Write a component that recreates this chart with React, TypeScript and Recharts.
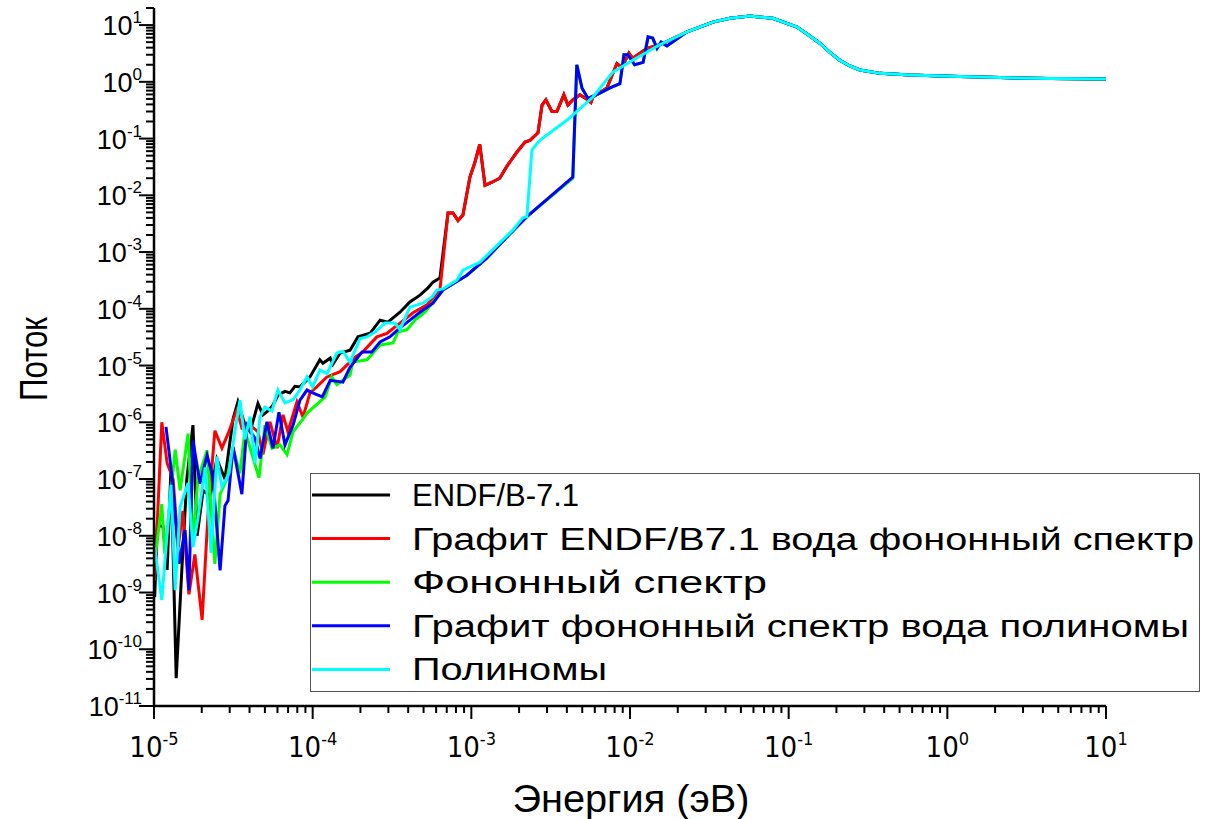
import { LineChart, Line, XAxis, YAxis, Legend, Label } from "recharts"

const FONT = "'Liberation Sans', Arial, sans-serif"
const NARROW = "'Liberation Sans Narrow', 'Arial Narrow', 'DejaVu Sans Condensed', sans-serif"

const seriesNames = [
  "ENDF/B-7.1",
  "Графит ENDF/B7.1 вода фононный спектр",
  "Фононный спектр",
  "Графит фононный спектр вода полиномы",
  "Полиномы",
]
const seriesColors = ["#000000", "#ff0000", "#00ff00", "#0000ff", "#00ffff"]
// the Cyrillic legend entries are drawn much wider in the original
const legendTextWidths = [0, 782, 355, 777, 195]

const xMajorTicks = [1e-5, 1e-4, 1e-3, 1e-2, 1e-1, 1, 10]
const yMajorTicks = [1e-11, 1e-10, 1e-9, 1e-8, 1e-7, 1e-6, 1e-5, 1e-4, 1e-3, 1e-2, 1e-1, 1, 10]
const minorSteps = [2, 3, 4, 5, 6, 7, 8, 9]

// ENDF/B-7.1 below the graphite jump
const endfEnergy = [
  1.01e-5, 1.05e-5, 1.14e-5, 1.21e-5, 1.28e-5, 1.38e-5, 1.5e-5, 1.61e-5, 1.76e-5, 1.87e-5,
  2.04e-5, 2.25e-5, 2.49e-5, 2.8e-5, 3.15e-5, 3.38e-5, 3.74e-5, 4.03e-5, 4.52e-5, 4.86e-5,
  5.22e-5, 5.62e-5, 6.04e-5, 6.69e-5, 7.19e-5, 7.73e-5, 8.32e-5, 9.62e-5, 1.11e-4, 1.16e-4,
  1.29e-4, 1.34e-4, 1.49e-4, 1.72e-4, 1.93e-4, 2.3e-4, 2.66e-4, 2.98e-4, 3.55e-4, 4.1e-4,
  4.75e-4, 5.33e-4, 5.73e-4, 6.34e-4,
]
const endfFlux = [
  8.3e-10, 1.55e-8, 1.45e-8, 2.5e-9, 1.62e-7, 3.1e-11, 2.75e-9, 1.0e-7, 8.9e-7, 1.0e-8,
  6.3e-8, 5.0e-8, 2.24e-7, 1.0e-7, 1.15e-6, 2.3e-6, 8.9e-7, 6.8e-7, 2.14e-6, 1.35e-6,
  1.58e-6, 2.0e-6, 3.0e-6, 3.5e-6, 3.3e-6, 4.3e-6, 4.2e-6, 6.3e-6, 1.26e-5, 1.1e-5,
  1.35e-5, 1.05e-5, 1.66e-5, 1.86e-5, 3.2e-5, 3.7e-5, 6.3e-5, 5.8e-5, 8.7e-5, 1.32e-4,
  1.74e-4, 2.34e-4, 2.95e-4, 3.5e-4,
]

// graphite ENDF/B7.1 + water phonon spectrum, low energies
const graphiteEnergy = [
  1.01e-5, 1.12e-5, 1.21e-5, 1.32e-5, 1.42e-5, 1.52e-5, 1.66e-5, 1.81e-5, 2.01e-5, 2.19e-5,
  2.42e-5, 2.68e-5, 2.93e-5, 3.33e-5, 3.58e-5, 4.03e-5, 4.52e-5, 4.86e-5, 5.38e-5, 5.96e-5,
  6.5e-5, 6.98e-5, 7.96e-5, 8.69e-5, 9.62e-5, 1.06e-4, 1.23e-4, 1.49e-4, 1.85e-4, 2.07e-4,
  2.54e-4, 2.94e-4, 3.55e-4, 4.29e-4, 5.25e-4, 5.73e-4, 6.34e-4,
]
const graphiteFlux = [
  1.62e-9, 1.0e-6, 1.9e-7, 1.0e-7, 6.3e-9, 2.75e-8, 9.3e-10, 4.7e-9, 3.3e-10, 2.4e-8,
  7.1e-7, 3.5e-7, 6.3e-7, 1.66e-6, 7.9e-7, 8.9e-7, 6.8e-7, 2.7e-7, 1.02e-6, 3.5e-7,
  1.35e-6, 6.8e-7, 2.3e-6, 1.23e-6, 3.3e-6, 4.2e-6, 6.3e-6, 7.8e-6, 1.41e-5, 1.74e-5,
  3.2e-5, 3.7e-5, 5.6e-5, 8.5e-5, 1.17e-4, 1.55e-4, 2.14e-4,
]

// shared by ENDF/B-7.1 and graphite ENDF above ~7e-4 eV
const graphiteJumpEnergy = [
  7.13e-4, 7.66e-4, 8.24e-4, 8.85e-4, 9.8e-4, 1.05e-3, 1.13e-3, 1.22e-3, 1.35e-3, 1.51e-3,
  1.67e-3, 1.94e-3, 2.18e-3, 2.34e-3, 2.63e-3, 2.79e-3, 2.95e-3, 3.22e-3, 3.46e-3, 3.83e-3,
  4.06e-3, 4.36e-3, 4.83e-3, 5.2e-3, 5.67e-3, 5.84e-3, 7.15e-3, 8.27e-3, 8.89e-3, 9.84e-3,
  1.04e-2, 1.28e-2, 1.54e-2,
]
const graphiteJumpFlux = [
  4.9e-3, 4.9e-3, 3.6e-3, 4.5e-3, 2.1e-2, 3.7e-2, 7.9e-2, 1.5e-2, 1.7e-2, 2.0e-2,
  3.2e-2, 5.8e-2, 8.7e-2, 9.3e-2, 0.126, 0.39, 0.48, 0.3, 0.3, 0.59,
  0.39, 0.48, 0.59, 0.52, 0.43, 0.54, 0.78, 2.1, 1.8, 3.2,
  2.6, 3.9, 4.5,
]

// phonon spectrum, low energies
const phononEnergy = [
  1.01e-5, 1.12e-5, 1.17e-5, 1.36e-5, 1.46e-5, 1.64e-5, 1.76e-5, 1.89e-5, 2.16e-5, 2.42e-5,
  2.61e-5, 2.88e-5, 3.15e-5, 3.48e-5, 3.74e-5, 4.15e-5, 4.59e-5, 5.0e-5, 5.54e-5, 6.22e-5,
  6.89e-5, 7.52e-5, 8.69e-5, 9.21e-5, 1.2e-4, 1.32e-4, 1.42e-4, 1.72e-4, 1.79e-4, 2.2e-4,
  2.66e-4, 3.21e-4, 3.45e-4, 3.93e-4, 4.41e-4, 5.1e-4, 6.62e-4, 9.38e-4, 1.25e-3, 1.67e-3,
  2.24e-3, 4.36e-3,
]
const phononFlux = [
  3.6e-9, 3.6e-8, 4.8e-9, 3.3e-7, 6.3e-8, 6.3e-7, 7.9e-9, 1.0e-7, 3.2e-7, 3.2e-9,
  5.4e-8, 1.0e-7, 3.5e-7, 1.26e-7, 7.1e-7, 2.7e-7, 1.05e-7, 8.9e-7, 3.5e-7, 4.0e-7,
  2.7e-7, 6.8e-7, 1.15e-6, 1.45e-6, 2.8e-6, 6.3e-6, 4.6e-6, 6.8e-6, 1.15e-5, 1.26e-5,
  2.3e-5, 2.5e-5, 3.9e-5, 4.3e-5, 6.3e-5, 8.7e-5, 2.14e-4, 3.9e-4, 7.8e-4, 1.82e-3,
  4.2e-3, 2.0e-2,
]

// graphite phonon spectrum + water polynomials, low energies
const polyGraphiteEnergy = [
  1.19e-5, 1.3e-5, 1.44e-5, 1.57e-5, 1.66e-5, 1.76e-5, 1.95e-5, 2.16e-5, 2.35e-5, 2.61e-5,
  2.8e-5, 2.93e-5, 3.15e-5, 3.58e-5, 3.85e-5, 4.33e-5, 4.66e-5, 5.15e-5, 5.62e-5, 6.13e-5,
  6.69e-5, 7.52e-5, 8.32e-5, 9.21e-5, 1.0e-4, 1.15e-4, 1.29e-4, 1.55e-4, 1.72e-4, 2.05e-4,
  2.36e-4, 2.66e-4, 3.07e-4, 3.55e-4, 4.1e-4, 4.75e-4, 5.73e-4, 6.62e-4, 9.38e-4, 1.25e-3,
  1.67e-3, 2.24e-3, 4.36e-3,
]
const polyGraphiteFlux = [
  8.3e-7, 1.1e-7, 3.2e-9, 1.26e-8, 1.1e-9, 4.8e-7, 8.3e-8, 2.6e-7, 1.1e-7, 2.45e-9,
  3.4e-8, 4.2e-8, 3.7e-7, 5.4e-8, 8.9e-7, 5.2e-7, 2.3e-7, 1.02e-6, 3.5e-7, 1.5e-6,
  4.0e-7, 8.9e-7, 2.45e-6, 3.7e-6, 3.3e-6, 2.8e-6, 5.5e-6, 5.1e-6, 9.3e-6, 1.74e-5,
  1.74e-5, 2.6e-5, 3.2e-5, 4.6e-5, 6.3e-5, 8.7e-5, 1.26e-4, 2.14e-4, 3.9e-4, 7.8e-4,
  1.82e-3, 4.2e-3, 2.1e-2,
]

// shared by both phonon-graphite series above ~4.5e-3 eV
const phononJumpEnergy = [
  4.62e-3, 4.98e-3, 5.43e-3, 6.46e-3, 7.47e-3, 8.64e-3, 9.16e-3, 9.7e-3, 1.07e-2, 1.21e-2,
  1.3e-2, 1.39e-2, 1.48e-2, 1.57e-2, 1.71e-2,
]
const phononJumpFlux = [2.0, 0.78, 0.51, 0.63, 0.78, 0.93, 3.0, 3.0, 2.0, 2.2, 6.2, 5.9, 3.9, 5.0, 4.3]

// polynomials
const polyEnergy = [
  1.01e-5, 1.12e-5, 1.28e-5, 1.36e-5, 1.46e-5, 1.64e-5, 1.76e-5, 1.89e-5, 2.1e-5, 2.29e-5,
  2.49e-5, 2.68e-5, 2.97e-5, 3.24e-5, 3.48e-5, 3.74e-5, 4.03e-5, 4.33e-5, 4.66e-5, 5.0e-5,
  5.54e-5, 6.04e-5, 6.69e-5, 7.52e-5, 8.32e-5, 9.21e-5, 1.0e-4, 1.11e-4, 1.23e-4, 1.42e-4,
  1.55e-4, 1.72e-4, 1.99e-4, 2.2e-4, 2.47e-4, 2.86e-4, 3.3e-4, 3.55e-4, 4.1e-4, 4.96e-4,
  5.65e-4, 6.07e-4, 6.62e-4, 8.11e-4, 8.85e-4, 1.13e-3, 1.51e-3, 1.83e-3, 2.11e-3, 2.24e-3,
  2.41e-3, 2.7e-3, 4.0e-3, 5.84e-3, 7.8e-3, 1.04e-2, 1.54e-2,
]
const polyFlux = [
  6.3e-9, 7.4e-10, 7.9e-8, 1.1e-9, 3.2e-8, 8.5e-8, 6.3e-9, 2.0e-8, 1.6e-7, 5.0e-9,
  2.5e-7, 7.2e-8, 1.26e-7, 7.2e-7, 2.45e-6, 5.0e-7, 1.26e-6, 1.9e-7, 1.26e-6, 1.86e-6,
  1.58e-6, 3.7e-6, 2.2e-6, 2.5e-6, 3.7e-6, 6.3e-6, 4.2e-6, 8.3e-6, 7.2e-6, 1.66e-5,
  1.78e-5, 1.15e-5, 3.0e-5, 3.2e-5, 3.9e-5, 5.6e-5, 5.6e-5, 4.3e-5, 1.07e-4, 1.26e-4,
  1.62e-4, 2.14e-4, 2.24e-4, 3.2e-4, 4.8e-4, 6.6e-4, 1.45e-3, 2.45e-3, 4.0e-3, 4.2e-3,
  6.3e-2, 9.3e-2, 0.21, 0.54, 1.48, 2.4, 4.5,
]

// common thermal peak and epithermal tail
const tailEnergy = [
  2.29e-2, 2.75e-2, 3.33e-2, 4.27e-2, 5.69e-2, 7.94e-2, 0.113, 0.136, 0.157, 0.182,
  0.21, 0.243, 0.281, 0.376, 0.581, 1.04, 2.14, 4.43, 10,
]
const tailFlux = [
  7.6, 9.2, 11.3, 13.2, 14.4, 13.2, 9.2, 6.4, 4.8, 3.3,
  2.4, 1.9, 1.62, 1.41, 1.32, 1.26, 1.19, 1.14, 1.12,
]

const toPoints = (energy: number[], flux: number[]) => energy.map((x, i) => ({ x, y: flux[i] }))

const seriesData = [
  toPoints([...endfEnergy, ...graphiteJumpEnergy, ...tailEnergy], [...endfFlux, ...graphiteJumpFlux, ...tailFlux]),
  toPoints([...graphiteEnergy, ...graphiteJumpEnergy, ...tailEnergy], [...graphiteFlux, ...graphiteJumpFlux, ...tailFlux]),
  toPoints([...phononEnergy, ...phononJumpEnergy, ...tailEnergy], [...phononFlux, ...phononJumpFlux, ...tailFlux]),
  toPoints([...polyGraphiteEnergy, ...phononJumpEnergy, ...tailEnergy], [...polyGraphiteFlux, ...phononJumpFlux, ...tailFlux]),
  toPoints([...polyEnergy, ...tailEnergy], [...polyFlux, ...tailFlux]),
]

const withMinor = (majors: number[]) => {
  const out: number[] = []
  majors.forEach((m, i) => {
    out.push(m)
    if (i < majors.length - 1) minorSteps.forEach((k) => out.push(k * m))
  })
  return out
}
const xTicks = withMinor(xMajorTicks)
const yTicks = [...withMinor(yMajorTicks), 20]

const isMajor = (v: number) => Math.abs(Math.log10(v) - Math.round(Math.log10(v))) < 1e-6

function XTick({ x, y, payload }: any) {
  const v = payload.value
  const major = isMajor(v)
  return (
    <g>
      <line x1={x} x2={x} y1={y} y2={y + (major ? 13 : 7)} stroke="#000" strokeWidth={2} />
      {major && (
        <text x={x} y={y + 51} textAnchor="middle" fontFamily={NARROW} fontSize={29} fill="#000">
          10<tspan dy={-12} fontSize={18}>{Math.round(Math.log10(v))}</tspan>
        </text>
      )}
    </g>
  )
}

function YTick({ x, y, payload }: any) {
  const v = payload.value
  const major = isMajor(v)
  return (
    <g>
      <line x1={x} x2={x - (major ? 15 : 8)} y1={y} y2={y} stroke="#000" strokeWidth={2} />
      {major && (
        <text x={x - 12} y={y + 10} textAnchor="end" fontFamily={FONT} fontSize={27} fill="#000">
          10<tspan dy={-12} fontSize={17}>{Math.round(Math.log10(v))}</tspan>
        </text>
      )}
    </g>
  )
}

function LegendBox() {
  return (
    <svg width={890} height={219} style={{ display: "block" }}>
      <rect x={0.5} y={0.5} width={889} height={218} fill="none" stroke="#555" strokeWidth={1} />
      {seriesNames.map((name, i) => {
        const cy = 22 + i * 43.6
        return (
          <g key={name}>
            <line x1={2} x2={80} y1={cy} y2={cy} stroke={seriesColors[i]} strokeWidth={3} />
            <text
              x={102}
              y={cy + 11}
              fontFamily={FONT}
              fontSize={31}
              fill="#000"
              textLength={legendTextWidths[i] || undefined}
              lengthAdjust="spacingAndGlyphs"
            >
              {name}
            </text>
          </g>
        )
      })}
    </svg>
  )
}

export default function App() {
  return (
    <div style={{ position: "absolute", left: 0, top: 0, width: 1207, height: 819, background: "#fff" }}>
      <LineChart width={1207} height={819} margin={{ top: 8, right: 101, bottom: 0, left: 0 }}>
        <XAxis
          type="number"
          dataKey="x"
          scale="log"
          domain={[1e-5, 10]}
          allowDataOverflow
          ticks={xTicks}
          interval={0}
          tick={<XTick />}
          tickSize={0}
          tickMargin={0}
          tickLine={false}
          axisLine={{ stroke: "#000", strokeWidth: 2.5 }}
          height={113}
        >
          <Label
            content={() => (
              <text x={631} y={812} textAnchor="middle" fontFamily={FONT} fontSize={38} fill="#000" textLength={237} lengthAdjust="spacingAndGlyphs">
                Энергия (эВ)
              </text>
            )}
          />
        </XAxis>
        <YAxis
          type="number"
          dataKey="y"
          scale="log"
          domain={[1e-11, 20]}
          allowDataOverflow
          ticks={yTicks}
          interval={0}
          tick={<YTick />}
          tickSize={0}
          tickMargin={0}
          tickLine={false}
          axisLine={{ stroke: "#000", strokeWidth: 2.5 }}
          width={154}
        >
          <Label
            content={() => (
              <text
                x={47}
                y={359}
                transform="rotate(-90 47 359)"
                textAnchor="middle"
                fontFamily={FONT}
                fontSize={39}
                fill="#000"
                textLength={84}
                lengthAdjust="spacingAndGlyphs"
              >
                Поток
              </text>
            )}
          />
        </YAxis>
        <Legend
          layout="vertical"
          align="center"
          verticalAlign="middle"
          content={<LegendBox />}
          wrapperStyle={{ left: 310, top: 473, width: 890, height: 219 }}
        />
        {seriesData.map((data, i) => (
          <Line
            key={seriesNames[i]}
            data={data}
            dataKey="y"
            name={seriesNames[i]}
            type="linear"
            stroke={seriesColors[i]}
            strokeWidth={3}
            dot={false}
            activeDot={false}
            isAnimationActive={false}
          />
        ))}
      </LineChart>
    </div>
  )
}
